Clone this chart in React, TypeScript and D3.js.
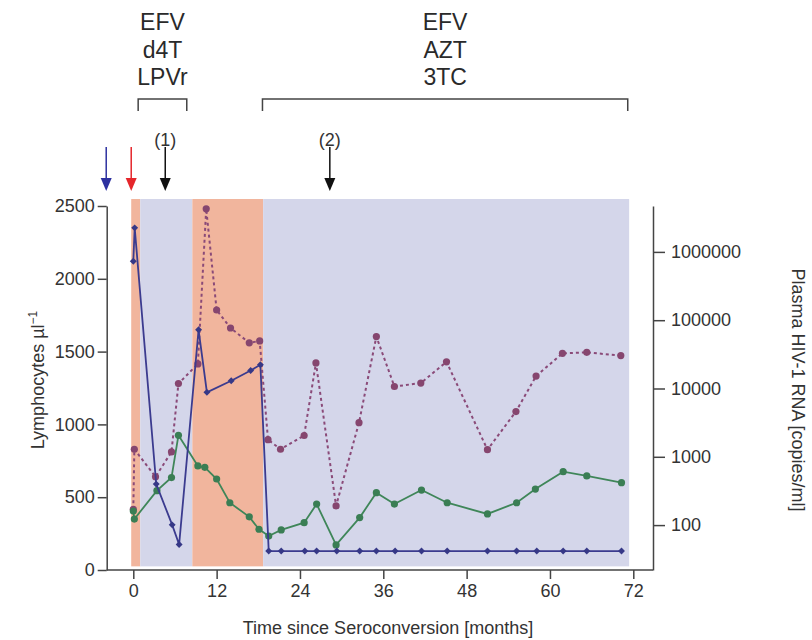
import React, { useRef, useEffect } from "react";
import * as d3 from "d3";

// months since seroconversion + values
const blueMonths = [0, 0.2, 3.3, 5.6, 6.6, 9.4, 10.6, 14.1, 16.9, 18.3, 19.5, 21.3, 24.7, 26.4, 29.3, 32.6, 35.0, 37.7, 41.5, 45.2, 51.0, 55.2, 58.1, 61.9, 65.3, 70.3];
const blueValues = [2120, 2350, 590, 310, 175, 1650, 1220, 1300, 1370, 1410, 130, 130, 130, 130, 130, 130, 130, 130, 130, 130, 130, 130, 130, 130, 130, 130];

const greenMonths = [0, 0.15, 3.4, 5.5, 6.5, 9.3, 10.3, 12.0, 13.9, 16.7, 18.1, 19.5, 21.3, 24.6, 26.4, 29.2, 32.6, 35.0, 37.6, 41.5, 45.2, 51.0, 55.2, 57.9, 61.9, 65.3, 70.3];
const greenValues = [405, 350, 545, 635, 925, 715, 705, 625, 462, 365, 280, 233, 275, 325, 453, 172, 360, 531, 453, 549, 462, 385, 462, 556, 675, 646, 600];

const rnaMonths = [0, 0.15, 3.2, 5.5, 6.5, 9.3, 10.5, 12.0, 14.0, 16.7, 18.2, 19.4, 21.2, 24.6, 26.3, 29.2, 32.5, 35.0, 37.6, 41.4, 45.1, 51.0, 55.1, 58.0, 61.8, 65.3, 70.2];
const rnaValues = [170, 1290, 510, 1180, 11800, 22900, 4270000, 141000, 76900, 46600, 49800, 1780, 1290, 2050, 23700, 191, 3160, 57600, 10700, 12000, 24600, 1270, 4600, 15200, 32700, 33800, 30300];

// treatment shading (months)
const bandEdges = [-0.3, 1, 8.5, 18.7, 71.4];
const bandKinds = ["on", "off", "on", "off"];

// regimens shown on top
const regimenDrugs = [["EFV", "d4T", "LPVr"], ["EFV", "AZT", "3TC"]];
const regimenStart = [0.7, 18.6];
const regimenEnd = [7.7, 71.2];

// event arrows
const arrowMonths = [-3.9, -0.3, 4.6, 28.3];
const arrowLabels = ["", "", "(1)", "(2)"];

const xTicks = [0, 12, 24, 36, 48, 60, 72];
const yLeftTicks = [0, 500, 1000, 1500, 2000, 2500];
const yRightTicks = [100, 1000, 10000, 100000, 1000000];

const FONT = "'Liberation Sans', Arial, Helvetica, sans-serif";

const App = () => {
  const svgRef = useRef<SVGSVGElement>(null);

  useEffect(() => {
    const svg = d3.select(svgRef.current);
    svg.selectAll("*").remove();

    const x = d3.scaleLinear().domain([0, 72]).range([133.3, 633.3]);
    const yL = d3.scaleLinear().domain([0, 2500]).range([570, 206]);
    const yR = d3.scaleLog().domain([22, 4.7e6]).range([570, 206]);

    const axisLeftX = 106.7;
    const axisRightX = 653;

    // background bands
    svg
      .append("g")
      .selectAll("rect")
      .data(bandKinds)
      .join("rect")
      .attr("x", (d, i) => x(bandEdges[i]))
      .attr("width", (d, i) => x(bandEdges[i + 1]) - x(bandEdges[i]))
      .attr("y", yL(2548))
      .attr("height", yL(25) - yL(2548))
      .attr("fill", (d) => (d === "on" ? "#f1b59d" : "#d4d6ea"));

    // axes
    const styleAxis = (g) => {
      g.selectAll("path").attr("stroke", "#444").attr("stroke-width", 1.5);
      g.selectAll("line").attr("stroke", "#444").attr("stroke-width", 1.5);
      g.selectAll("text")
        .attr("font-size", 18)
        .attr("font-family", FONT)
        .attr("fill", "#333");
    };

    svg
      .append("g")
      .attr("transform", `translate(${axisLeftX},0)`)
      .call(
        d3
          .axisLeft(yL)
          .tickValues(yLeftTicks)
          .tickFormat(d3.format("d"))
          .tickSize(9)
          .tickPadding(3)
          .tickSizeOuter(0)
      )
      .call(styleAxis);

    svg
      .append("g")
      .attr("transform", `translate(${axisRightX},0)`)
      .call(
        d3
          .axisRight(yR)
          .tickValues(yRightTicks)
          .tickFormat(d3.format("d"))
          .tickSize(12)
          .tickPadding(6)
          .tickSizeOuter(0)
      )
      .call(styleAxis);

    const xg = svg
      .append("g")
      .attr("transform", "translate(0,570)")
      .call(d3.axisBottom(x).tickValues(xTicks).tickSize(9).tickPadding(5).tickSizeOuter(0))
      .call(styleAxis);
    xg.select(".domain").remove();
    svg
      .append("line")
      .attr("x1", axisLeftX)
      .attr("x2", axisRightX)
      .attr("y1", 570)
      .attr("y2", 570)
      .attr("stroke", "#444")
      .attr("stroke-width", 1.5);

    // axis titles
    svg
      .append("text")
      .attr("x", 388)
      .attr("y", 634)
      .attr("text-anchor", "middle")
      .attr("font-size", 18)
      .attr("font-family", FONT)
      .attr("fill", "#333")
      .text("Time since Seroconversion [months]");

    const ylab = svg
      .append("text")
      .attr("transform", "translate(44,380) rotate(-90)")
      .attr("text-anchor", "middle")
      .attr("font-size", 18)
      .attr("font-family", FONT)
      .attr("fill", "#333");
    ylab.append("tspan").text("Lymphocytes µl");
    ylab.append("tspan").attr("dy", -7).attr("font-size", 12).text("−1");

    svg
      .append("text")
      .attr("transform", "translate(792,390) rotate(90)")
      .attr("text-anchor", "middle")
      .attr("font-size", 18)
      .attr("font-family", FONT)
      .attr("fill", "#333")
      .text("Plasma HIV-1 RNA [copies/ml]");

    // RNA (dotted, right axis)
    const rna = rnaMonths.map((m, i) => [m, rnaValues[i]]);
    svg
      .append("path")
      .datum(rna)
      .attr("fill", "none")
      .attr("stroke", "#8a4a78")
      .attr("stroke-width", 2)
      .attr("stroke-dasharray", "3,3")
      .attr(
        "d",
        d3
          .line()
          .x((d) => x(d[0]))
          .y((d) => yR(d[1]))
      );
    svg
      .append("g")
      .selectAll("circle")
      .data(rna)
      .join("circle")
      .attr("cx", (d) => x(d[0]))
      .attr("cy", (d) => yR(d[1]))
      .attr("r", 3.6)
      .attr("fill", "#86466f");

    // green series
    const green = greenMonths.map((m, i) => [m, greenValues[i]]);
    const lineL = d3
      .line()
      .x((d) => x(d[0]))
      .y((d) => yL(d[1]));
    svg
      .append("path")
      .datum(green)
      .attr("fill", "none")
      .attr("stroke", "#3f8659")
      .attr("stroke-width", 1.8)
      .attr("d", lineL);
    svg
      .append("g")
      .selectAll("circle")
      .data(green)
      .join("circle")
      .attr("cx", (d) => x(d[0]))
      .attr("cy", (d) => yL(d[1]))
      .attr("r", 3.6)
      .attr("fill", "#3a7e54");

    // blue series
    const blue = blueMonths.map((m, i) => [m, blueValues[i]]);
    svg
      .append("path")
      .datum(blue)
      .attr("fill", "none")
      .attr("stroke", "#3b3b8f")
      .attr("stroke-width", 1.8)
      .attr("d", lineL);
    svg
      .append("g")
      .selectAll("path")
      .data(blue)
      .join("path")
      .attr("transform", (d) => `translate(${x(d[0])},${yL(d[1])}) rotate(45)`)
      .attr("d", d3.symbol(d3.symbolSquare, 24))
      .attr("fill", "#363887");

    // regimen labels + brackets
    regimenDrugs.forEach((drugs, k) => {
      const x0 = x(regimenStart[k]);
      const x1 = x(regimenEnd[k]);
      const cx = (x0 + x1) / 2;
      drugs.forEach((dname, j) => {
        svg
          .append("text")
          .attr("x", cx)
          .attr("y", 30 + j * 27.5)
          .attr("text-anchor", "middle")
          .attr("font-size", 23)
          .attr("font-family", FONT)
          .attr("fill", "#2a2a2a")
          .text(dname);
      });
      svg
        .append("path")
        .attr("d", `M${x0},111V99H${x1}V111`)
        .attr("fill", "none")
        .attr("stroke", "#444")
        .attr("stroke-width", 1.5);
    });

    // arrows
    const arrowColors = ["#2d31a0", "#e5262b", "#111", "#111"];
    const ag = svg.append("g");
    arrowMonths.forEach((m, i) => {
      const ax = x(m);
      ag.append("line")
        .attr("x1", ax)
        .attr("x2", ax)
        .attr("y1", 147)
        .attr("y2", 180)
        .attr("stroke", arrowColors[i])
        .attr("stroke-width", 1.5);
      ag.append("path")
        .attr("d", `M${ax - 5.5},178L${ax + 5.5},178L${ax},191Z`)
        .attr("fill", arrowColors[i]);
      if (arrowLabels[i]) {
        ag.append("text")
          .attr("x", ax)
          .attr("y", 146)
          .attr("text-anchor", "middle")
          .attr("font-size", 18)
          .attr("font-family", FONT)
          .attr("fill", "#333")
          .text(arrowLabels[i]);
      }
    });
  }, []);

  return (
    <svg
      ref={svgRef}
      width={812}
      height={640}
      style={{ position: "absolute", left: 0, top: 0, background: "#fff" }}
    ></svg>
  );
};

export default App;
